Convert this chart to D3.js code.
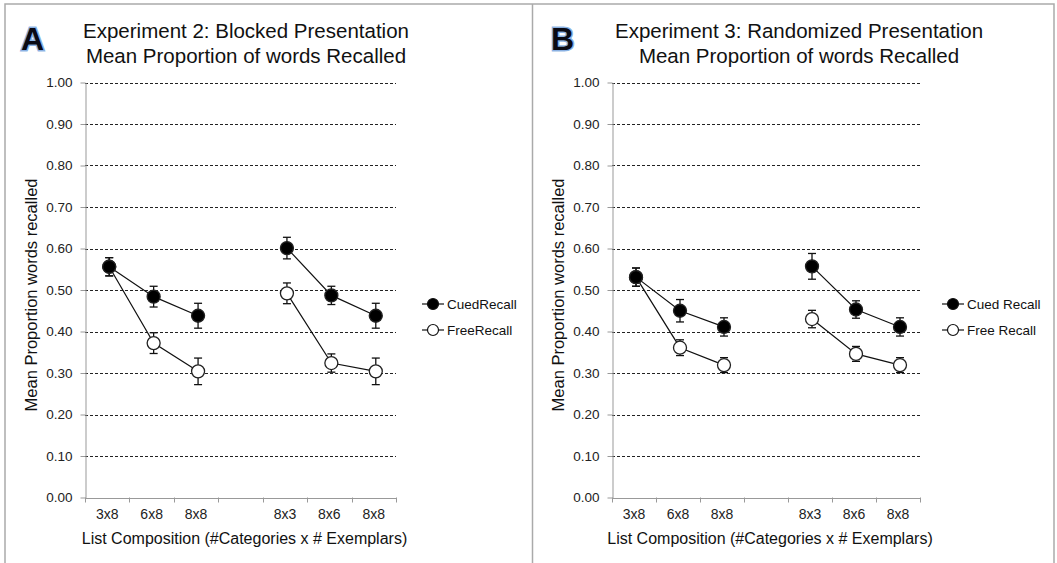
<!DOCTYPE html>
<html>
<head>
<meta charset="utf-8">
<script src="https://cdn.jsdelivr.net/npm/d3@7"></script>
<style>
  body { margin: 0; background: #fff; }
  text { font-family: "Liberation Sans", Arial, sans-serif; }
</style>
</head>
<body>
<script>
var W = 1057, H = 563;

// x categories (the blank one is the gap between the two list types)
var categories = ["3x8", "6x8", "8x8", "", "8x3", "8x6", "8x8"];
var yTicks = [0, 0.1, 0.2, 0.3, 0.4, 0.5, 0.6, 0.7, 0.8, 0.9, 1.0];

// Experiment 2 (blocked)
var cuedA = [0.556, 0.484, 0.438, null, 0.601, 0.487, 0.438];
var cuedAErr = [0.022, 0.025, 0.030, null, 0.026, 0.022, 0.030];
var freeA = [0.556, 0.372, 0.304, null, 0.492, 0.324, 0.304];
var freeAErr = [0.022, 0.025, 0.032, null, 0.025, 0.022, 0.032];

// Experiment 3 (randomized)
var cuedB = [0.531, 0.450, 0.411, null, 0.557, 0.453, 0.411];
var cuedBErr = [0.022, 0.027, 0.022, null, 0.031, 0.021, 0.022];
var freeB = [0.531, 0.361, 0.319, null, 0.430, 0.346, 0.319];
var freeBErr = [0.022, 0.019, 0.018, null, 0.021, 0.018, 0.018];

var svg = d3.select("body").append("svg")
    .attr("width", W)
    .attr("height", H);

// outer frame and divider
svg.append("rect")
    .attr("x", 5).attr("y", 4)
    .attr("width", W - 8).attr("height", H + 10)
    .attr("fill", "none")
    .attr("stroke", "#aaa")
    .attr("stroke-width", 1.5);
svg.append("line")
    .attr("x1", 532.5).attr("x2", 532.5)
    .attr("y1", 4).attr("y2", H)
    .attr("stroke", "#aaa")
    .attr("stroke-width", 1.5);

var panels = [
    { letter: "A", left: 85, right: 396, letterX: 21, titleX: 246,
      title1: "Experiment 2: Blocked Presentation",
      cued: cuedA, cuedErr: cuedAErr, free: freeA, freeErr: freeAErr,
      legendX: 422, cuedLabel: "CuedRecall", freeLabel: "FreeRecall" },
    { letter: "B", left: 612, right: 920, letterX: 551, titleX: 799,
      title1: "Experiment 3: Randomized Presentation",
      cued: cuedB, cuedErr: cuedBErr, free: freeB, freeErr: freeBErr,
      legendX: 942, cuedLabel: "Cued Recall", freeLabel: "Free Recall" }
];

var plotTop = 82.5, plotBottom = 497.5;

panels.forEach(function (p) {
    var g = svg.append("g");

    var xScale = d3.scaleBand()
        .domain(d3.range(categories.length))
        .range([p.left, p.right]);

    var yScale = d3.scaleLinear()
        .domain([0, 1])
        .range([plotBottom, plotTop]);

    // gridlines
    g.selectAll(".grid")
        .data(yTicks.filter(function (d) { return d > 0; }))
        .enter()
        .append("line")
        .attr("x1", p.left)
        .attr("x2", p.right)
        .attr("y1", function (d) { return Math.round(yScale(d)) + 0.5; })
        .attr("y2", function (d) { return Math.round(yScale(d)) + 0.5; })
        .attr("stroke", "#222")
        .attr("stroke-width", 1)
        .attr("stroke-dasharray", "3,2");

    // y axis
    var yAxis = d3.axisLeft(yScale)
        .tickValues(yTicks)
        .tickFormat(d3.format(".2f"))
        .tickSize(5)
        .tickPadding(8)
        .tickSizeOuter(0);
    var yg = g.append("g")
        .attr("transform", "translate(" + (p.left + 0.5) + ",0)")
        .call(yAxis);
    yg.select(".domain").attr("stroke", "#999");
    yg.selectAll(".tick line").attr("stroke", "#999");
    yg.selectAll(".tick text")
        .attr("font-size", 13.5)
        .attr("fill", "#222")
        .style("font-family", "Liberation Sans, Arial, sans-serif");

    // x axis
    var xAxis = d3.axisBottom(xScale)
        .tickFormat(function (i) { return categories[i]; })
        .tickSize(0)
        .tickPadding(11);
    var xg = g.append("g")
        .attr("transform", "translate(0," + (plotBottom + 0.5) + ")")
        .call(xAxis);
    xg.select(".domain").attr("stroke", "#999");
    xg.selectAll(".tick text")
        .attr("font-size", 14)
        .attr("fill", "#222")
        .style("font-family", "Liberation Sans, Arial, sans-serif");
    // boundary ticks between categories
    g.selectAll(".xb")
        .data(d3.range(categories.length + 1))
        .enter()
        .append("line")
        .attr("x1", function (i) { return Math.round(p.left + i * xScale.step()) + 0.5; })
        .attr("x2", function (i) { return Math.round(p.left + i * xScale.step()) + 0.5; })
        .attr("y1", plotBottom)
        .attr("y2", plotBottom + 5)
        .attr("stroke", "#999");

    // axis titles
    g.append("text")
        .attr("x", (p.left + p.right) / 2 + 4)
        .attr("y", 544)
        .attr("text-anchor", "middle")
        .attr("font-size", 16)
        .attr("fill", "#111")
        .text("List Composition (#Categories x # Exemplars)");
    g.append("text")
        .attr("transform", "translate(" + (p.left - 48) + "," + 295 + ") rotate(-90)")
        .attr("text-anchor", "middle")
        .attr("font-size", 16.5)
        .attr("fill", "#111")
        .text("Mean Proportion words recalled");

    // panel titles
    g.append("text")
        .attr("x", p.titleX).attr("y", 38)
        .attr("text-anchor", "middle")
        .attr("font-size", 20.5)
        .attr("fill", "#111")
        .text(p.title1);
    g.append("text")
        .attr("x", p.titleX).attr("y", 63)
        .attr("text-anchor", "middle")
        .attr("font-size", 20.5)
        .attr("fill", "#111")
        .text("Mean Proportion of words Recalled");

    // panel letter with a blue glow
    g.append("text")
        .attr("x", p.letterX).attr("y", 50)
        .attr("font-size", 32)
        .attr("font-weight", "bold")
        .attr("fill", "none")
        .attr("stroke", "#3b7dd0")
        .attr("stroke-width", 3)
        .attr("stroke-opacity", 0.6)
        .text(p.letter);
    g.append("text")
        .attr("x", p.letterX).attr("y", 50)
        .attr("font-size", 32)
        .attr("font-weight", "bold")
        .attr("fill", "#0a0a14")
        .text(p.letter);

    var cx = function (d, i) { return xScale(i) + xScale.bandwidth() / 2 + 2; };

    var line = d3.line()
        .defined(function (d) { return d != null; })
        .x(cx)
        .y(function (d) { return yScale(d); });

    var series = [
        { vals: p.free, err: p.freeErr, fill: "#fff" },
        { vals: p.cued, err: p.cuedErr, fill: "#000" }
    ];

    series.forEach(function (s) {
        g.append("path")
            .datum(s.vals)
            .attr("d", line)
            .attr("fill", "none")
            .attr("stroke", "#111")
            .attr("stroke-width", 1.2);
    });

    series.forEach(function (s) {
        var pts = s.vals.map(function (v, i) {
            return { v: v, e: s.err[i], i: i };
        }).filter(function (d) { return d.v != null; });

        var eb = g.append("g");
        eb.selectAll(".ev")
            .data(pts)
            .enter()
            .append("line")
            .attr("x1", function (d) { return cx(d.v, d.i); })
            .attr("x2", function (d) { return cx(d.v, d.i); })
            .attr("y1", function (d) { return yScale(d.v + d.e); })
            .attr("y2", function (d) { return yScale(d.v - d.e); })
            .attr("stroke", "#111")
            .attr("stroke-width", 1.3);
        [1, -1].forEach(function (sign) {
            eb.selectAll(".cap" + sign)
                .data(pts)
                .enter()
                .append("line")
                .attr("x1", function (d) { return cx(d.v, d.i) - 4; })
                .attr("x2", function (d) { return cx(d.v, d.i) + 4; })
                .attr("y1", function (d) { return yScale(d.v + sign * d.e); })
                .attr("y2", function (d) { return yScale(d.v + sign * d.e); })
                .attr("stroke", "#111")
                .attr("stroke-width", 1.3);
        });

        g.append("g").selectAll("circle")
            .data(pts)
            .enter()
            .append("circle")
            .attr("cx", function (d) { return cx(d.v, d.i); })
            .attr("cy", function (d) { return yScale(d.v); })
            .attr("r", 6.5)
            .attr("fill", s.fill)
            .attr("stroke", "#222")
            .attr("stroke-width", 1.3);
    });

    // legend
    var legend = [
        { label: p.cuedLabel, fill: "#000", y: 304 },
        { label: p.freeLabel, fill: "#fff", y: 330 }
    ];
    var lg = g.append("g").selectAll("g")
        .data(legend)
        .enter()
        .append("g")
        .attr("transform", function (d) { return "translate(" + p.legendX + "," + d.y + ")"; });
    lg.append("line")
        .attr("x1", 0).attr("x2", 22)
        .attr("stroke", "#111")
        .attr("stroke-width", 1.2);
    lg.append("circle")
        .attr("cx", 11)
        .attr("r", 5.5)
        .attr("fill", function (d) { return d.fill; })
        .attr("stroke", "#111")
        .attr("stroke-width", 1.2);
    lg.append("text")
        .attr("x", 25)
        .attr("dy", "0.36em")
        .attr("font-size", 13.5)
        .attr("fill", "#111")
        .text(function (d) { return d.label; });
});
</script>
</body>
</html>
